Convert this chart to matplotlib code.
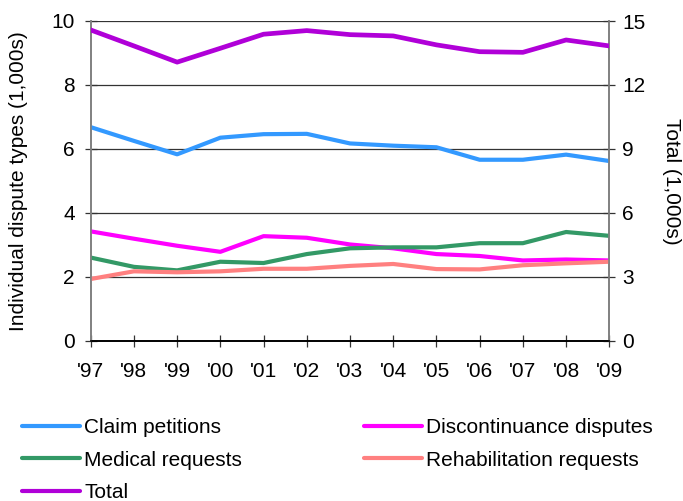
import matplotlib
matplotlib.use("Agg")
import matplotlib.pyplot as plt
from matplotlib.lines import Line2D

plt.rcParams['font.family'] = ['Liberation Sans', 'DejaVu Sans']

years = ["'97", "'98", "'99", "'00", "'01", "'02", "'03", "'04", "'05", "'06", "'07", "'08", "'09"]

claim_petitions = [6.68, 6.25, 5.83, 6.35, 6.46, 6.47, 6.17, 6.10, 6.05, 5.66, 5.66, 5.82, 5.62]
discontinuance = [3.42, 3.19, 2.97, 2.78, 3.27, 3.22, 3.01, 2.89, 2.71, 2.65, 2.51, 2.54, 2.51]
medical = [2.60, 2.31, 2.20, 2.47, 2.43, 2.71, 2.89, 2.92, 2.92, 3.05, 3.05, 3.40, 3.28]
rehabilitation = [1.93, 2.17, 2.14, 2.17, 2.25, 2.25, 2.34, 2.40, 2.24, 2.23, 2.36, 2.42, 2.47]
total = [14.58, 13.83, 13.07, 13.72, 14.38, 14.55, 14.36, 14.30, 13.88, 13.56, 13.53, 14.11, 13.83]

left_ticks = [0, 2, 4, 6, 8, 10]
right_ticks = [0, 3, 6, 9, 12, 15]

c_claim = '#3399FF'
c_disc = '#FF00FF'
c_med = '#339966'
c_rehab = '#FF8080'
c_total = '#B000D8'

W, H = 683, 501
fig = plt.figure(figsize=(W / 100, H / 100), dpi=100)
ax = fig.add_axes([90.7 / W, 1 - 340.7 / H, (609.3 - 90.7) / W, (340.7 - 21) / H])
ax2 = ax.twinx()

x = list(range(len(years)))
lw = 3.0
ax.plot(x, claim_petitions, color=c_claim, lw=lw, solid_joinstyle='round', zorder=3)
ax.plot(x, discontinuance, color=c_disc, lw=lw, solid_joinstyle='round', zorder=3)
ax.plot(x, medical, color=c_med, lw=lw, solid_joinstyle='round', zorder=3)
ax.plot(x, rehabilitation, color=c_rehab, lw=lw, solid_joinstyle='round', zorder=3)
ax2.plot(x, total, color=c_total, lw=3.4, solid_joinstyle='round', zorder=3)

ax.set_xlim(0, len(years) - 1)
ax.set_ylim(0, 10)
ax2.set_ylim(0, 15)
ax.set_yticks(left_ticks)
ax2.set_yticks(right_ticks)
ax.set_xticks(x)
ax.set_xticklabels(years)

fs = 15
for g in left_ticks[1:]:
    ax.axhline(g, color='#333333', lw=0.9, zorder=1)

ax.tick_params(axis='y', direction='inout', length=9, width=0.9, color='#333333',
               labelsize=fs, pad=7)
ax.tick_params(axis='x', direction='inout', length=9, width=0.9, color='#333333',
               labelsize=fs, pad=11)
ax2.tick_params(axis='y', direction='inout', length=9, width=0.9, color='#333333',
                labelsize=fs, pad=5)

for a in (ax, ax2):
    a.spines['top'].set_visible(False)
    a.spines['left'].set_color('#808080')
    a.spines['right'].set_color('#808080')
    a.spines['bottom'].set_color('#000000')
    for s in ('left', 'right', 'bottom'):
        a.spines[s].set_linewidth(1.2)

ax.set_ylabel('Individual dispute types (1,000s)', fontsize=fs, va='center')
ax.yaxis.set_label_coords((18 - 90.7) / 518.6, 0.5)
ax2.set_ylabel('Total (1,000s)', fontsize=fs, rotation=-90, va='center')
ax2.yaxis.set_label_coords((672 - 90.7) / 518.6, 0.5)

def handle(c):
    return Line2D([], [], color=c, lw=3.0, solid_capstyle='round')

leg_kw = dict(frameon=False, fontsize=fs, handlelength=2.8, handletextpad=0.2,
              borderpad=0, borderaxespad=0, labelspacing=0.66, loc='upper left')
leg1 = fig.legend([handle(c_claim), handle(c_med), handle(c_total)],
                  ['Claim petitions', 'Medical requests', 'Total'],
                  bbox_to_anchor=(22 / W, 1 - 418 / H), **leg_kw)
leg2 = fig.legend([handle(c_disc), handle(c_rehab)],
                  ['Discontinuance disputes', 'Rehabilitation requests'],
                  bbox_to_anchor=(364 / W, 1 - 418 / H), **leg_kw)

fig.savefig('out.png', dpi=100)
